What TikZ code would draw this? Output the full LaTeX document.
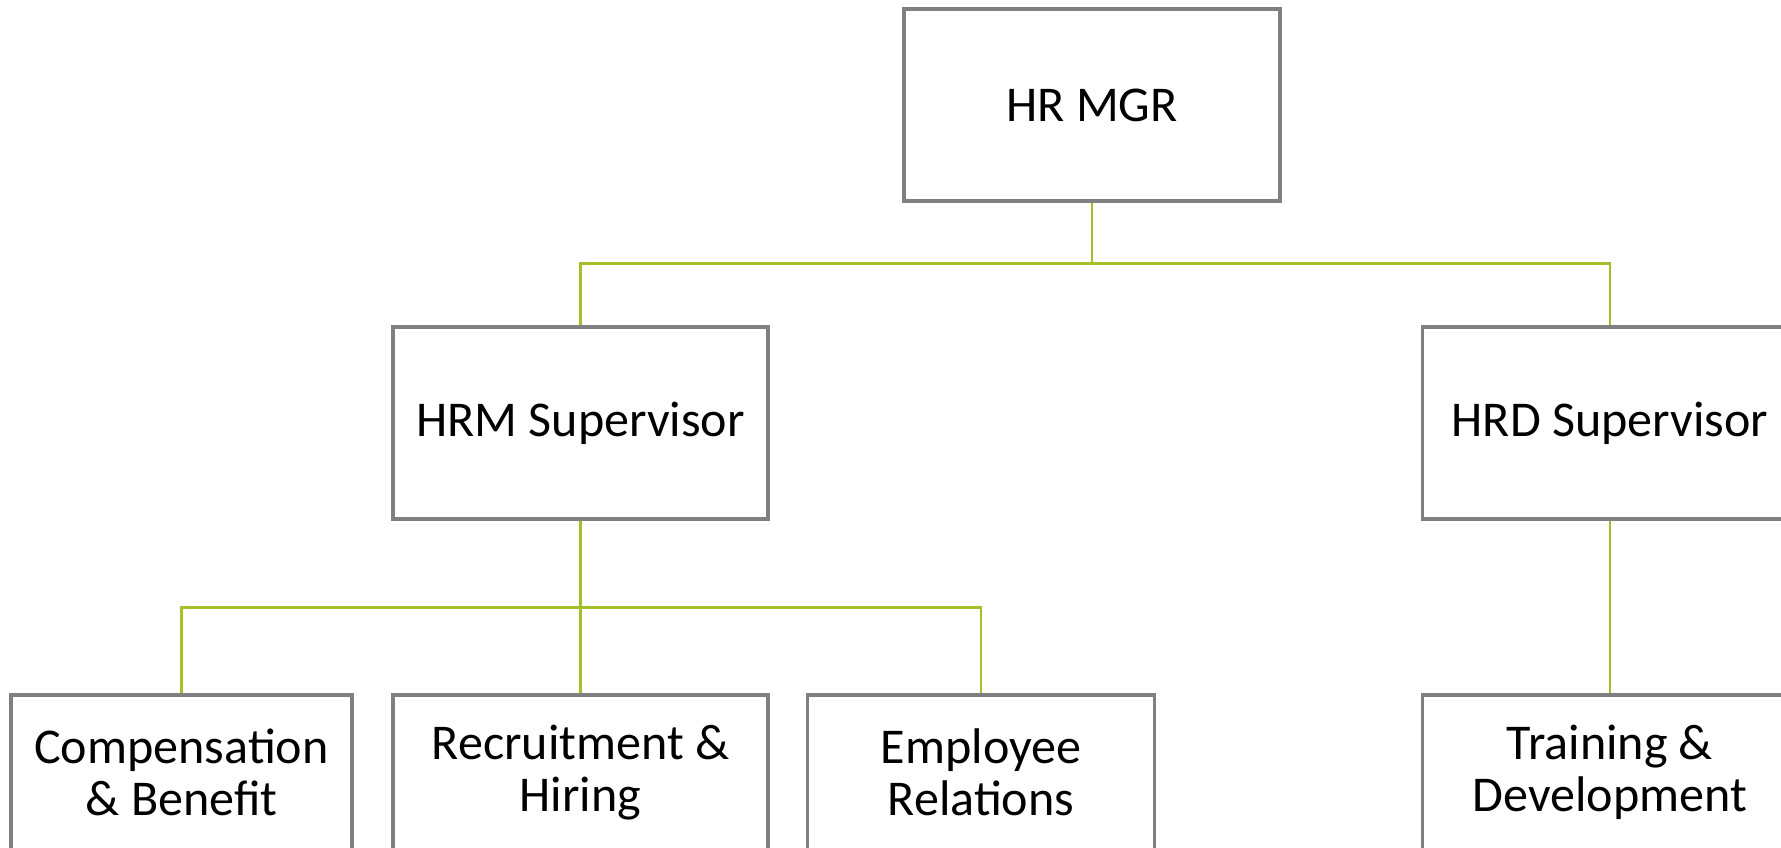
\documentclass[tikz,border=0pt]{standalone}
\usepackage{fontspec}
\setmainfont{Carlito}
\usepackage{xcolor}
\usepackage{tikz}
\usetikzlibrary{calc}

\definecolor{boxgray}{RGB}{128,128,128}
\definecolor{linkgreen}{RGB}{162,192,42}

\tikzset{
	post/.style={draw=boxgray,line width=2.2pt,fill=white,minimum height=3.84cm,align=center,font=\fontsize{28.5}{29.5}\selectfont},
	unit/.style={post,minimum height=3.1cm},
	link/.style={draw=linkgreen,line width=1.3pt}
}

\begin{document}
\begin{tikzpicture}
		\useasboundingbox (0,0) rectangle (35.62,16.94);
		\clip (0,0) rectangle (35.62,16.94);
		\def\busa{11.67}
		\def\busb{4.79}
		% top
		\node [post,minimum width=7.52cm] (mgr) at (21.84,14.84) {HR MGR};
		% supervisors
		\node [post,minimum width=7.5cm] (hrm) at (11.61,8.48) {HRM Supervisor};
		\node [post,minimum width=7.5cm] (hrd) at (32.2,8.48) {HRD Supervisor};
		% units
		\node [unit,minimum width=6.82cm] (comp) at (3.63,1.49) {Compensation\\\& Benefit};
		\node [unit,minimum width=7.5cm] (recr) at (11.61,1.49) {Recruitment \&\\Hiring};
		\node [unit,minimum width=6.94cm] (empl) at (19.62,1.49) {Employee\\Relations};
		\node [unit,minimum width=7.5cm] (train) at (32.2,1.49) {Training \&\\Development};
		% links
		\coordinate (bus1) at (mgr.south |- 0,\busa);
		\coordinate (bus2) at (hrm.south |- 0,\busb);
		\draw [link] (mgr.south) -- (bus1) -| (hrm.north);
		\draw [link] (bus1) -| (hrd.north);
		\draw [link] (hrm.south) -- (bus2) -| (comp.north);
		\draw [link] (bus2) -- (recr.north);
		\draw [link] (bus2) -| (empl.north);
		\draw [link] (hrd.south) -- (train.north);
	\end{tikzpicture}
\end{document}
